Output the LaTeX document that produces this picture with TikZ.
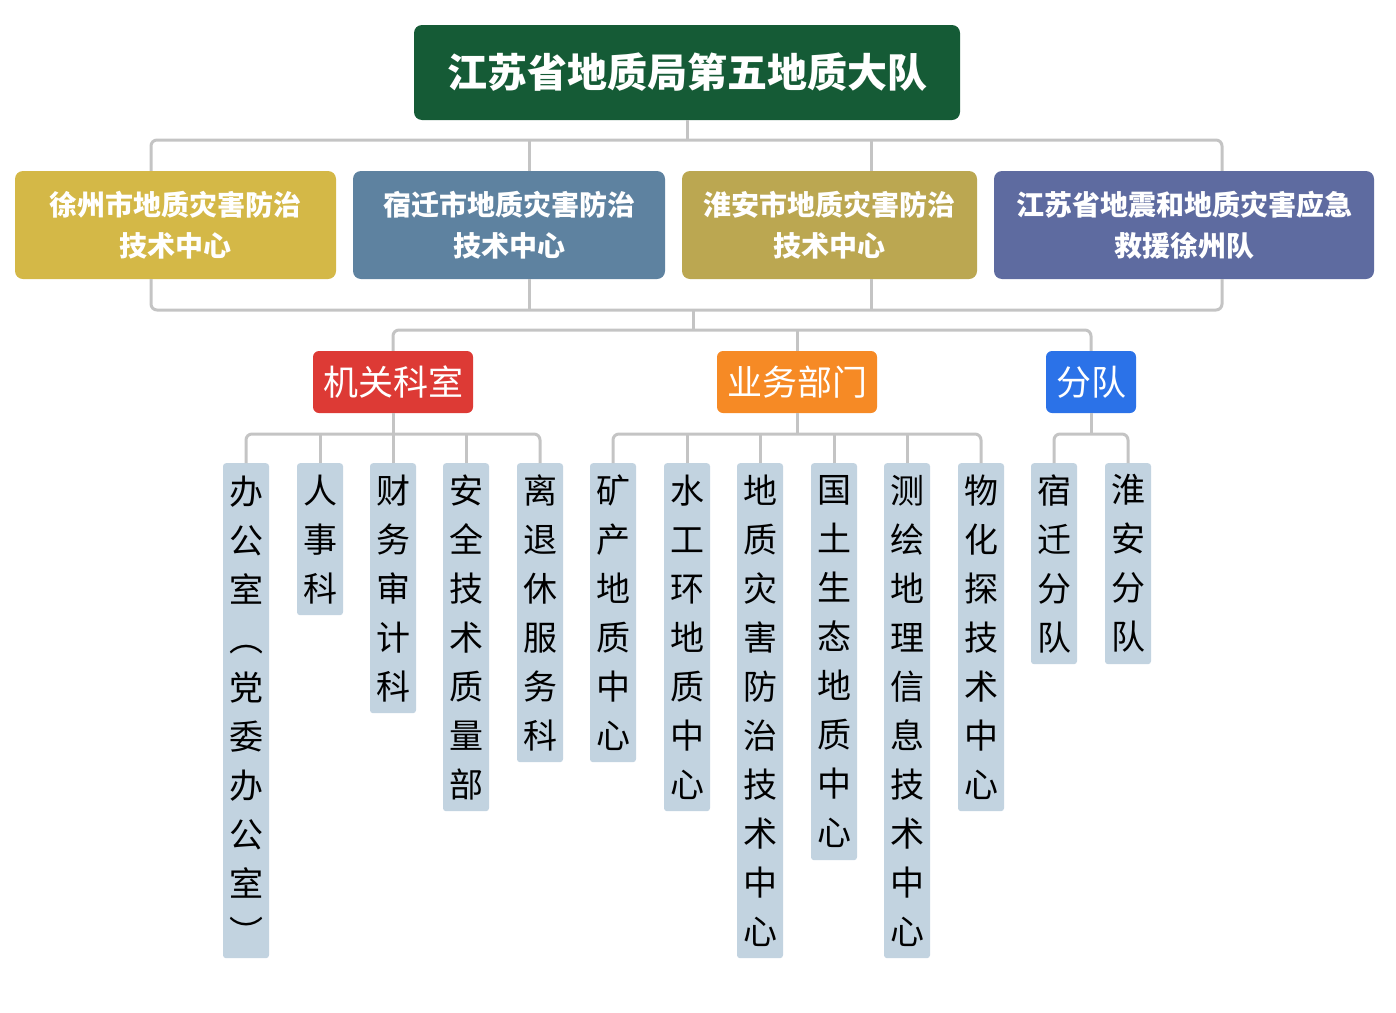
\documentclass[tikz,border=0pt]{standalone}
\usepackage{fontspec}
\newfontfamily\cjk{Noto Sans CJK SC}
\definecolor{rootc}{RGB}{21,91,54}
\definecolor{yel}{RGB}{212,184,71}
\definecolor{bgray}{RGB}{94,130,160}
\definecolor{olive}{RGB}{187,167,81}
\definecolor{slate}{RGB}{94,107,160}
\definecolor{redc}{RGB}{221,58,53}
\definecolor{orac}{RGB}{246,138,37}
\definecolor{bluc}{RGB}{43,114,232}
\definecolor{leafc}{RGB}{194,211,224}
\definecolor{linec}{RGB}{196,196,196}
\tikzset{
  x=1pt,y=-1pt,
  rootbox/.style={fill=rootc,rounded corners=8,minimum width=546,minimum height=95,inner sep=0,
    text=white,font=\cjk\bfseries\fontsize{40}{44}\selectfont},
  lonebox/.style={rounded corners=8,minimum height=108,inner sep=0,align=center,
    text=white,font=\cjk\bfseries\fontsize{28}{41}\selectfont},
  ltwobox/.style={rounded corners=6,minimum height=62,inner sep=0,
    text=white,font=\cjk\fontsize{35}{40}\selectfont},
  leafbox/.style={fill=leafc,rounded corners=3,minimum width=46,inner sep=0,anchor=north,align=center,
    text=black,font=\cjk\fontsize{34}{49}\selectfont},
  conn/.style={draw=linec,line width=3pt,rounded corners=6},
}
\begin{document}
\begin{tikzpicture}
\useasboundingbox (0,0) rectangle (1396,1012);
\coordinate (busT) at (0,140);
\coordinate (busB) at (0,310);
\coordinate (busC) at (0,330);
\coordinate (busD) at (0,434);
\coordinate (j) at (693,310);
% root
\node[rootbox] (root) at (687,72.5) {江苏省地质局第五地质大队};
% level 1
\node[lonebox,fill=yel,minimum width=321] (b1) at (175.5,225) {徐州市地质灾害防治\\技术中心};
\node[lonebox,fill=bgray,minimum width=312] (b2) at (509,225) {宿迁市地质灾害防治\\技术中心};
\node[lonebox,fill=olive,minimum width=295] (b3) at (829.5,225) {淮安市地质灾害防治\\技术中心};
\node[lonebox,fill=slate,minimum width=380] (b4) at (1184,225) {江苏省地震和地质灾害应急\\救援徐州队};
% level 2
\node[ltwobox,fill=redc,minimum width=160] (a1) at (393,382) {机关科室};
\node[ltwobox,fill=orac,minimum width=160] (a2) at (797,382) {业务部门};
\node[ltwobox,fill=bluc,minimum width=90] (a3) at (1091,382) {分队};
% leaves
\node[leafbox,minimum height=495] (l1) at (246,463) {办\\公\\室\\︵\\党\\委\\办\\公\\室\\︶};
\node[leafbox,minimum height=152] (l2) at (320,463) {人\\事\\科};
\node[leafbox,minimum height=250] (l3) at (393,463) {财\\务\\审\\计\\科};
\node[leafbox,minimum height=348] (l4) at (466,463) {安\\全\\技\\术\\质\\量\\部};
\node[leafbox,minimum height=299] (l5) at (540,463) {离\\退\\休\\服\\务\\科};
\node[leafbox,minimum height=299] (l6) at (613,463) {矿\\产\\地\\质\\中\\心};
\node[leafbox,minimum height=348] (l7) at (687,463) {水\\工\\环\\地\\质\\中\\心};
\node[leafbox,minimum height=495] (l8) at (760,463) {地\\质\\灾\\害\\防\\治\\技\\术\\中\\心};
\node[leafbox,minimum height=397] (l9) at (834,463) {国\\土\\生\\态\\地\\质\\中\\心};
\node[leafbox,minimum height=495] (l10) at (907,463) {测\\绘\\地\\理\\信\\息\\技\\术\\中\\心};
\node[leafbox,minimum height=348] (l11) at (981,463) {物\\化\\探\\技\\术\\中\\心};
\node[leafbox,minimum height=201] (l12) at (1054,463) {宿\\迁\\分\\队};
\node[leafbox,minimum height=201] (l13) at (1128,463) {淮\\安\\分\\队};
% connectors top
\draw[conn] ([xshift=-24.5]b1.north) |- ([xshift=38]b4.north |- busT) -- ([xshift=38]b4.north);
\draw[conn] (root.south) -- (root.south |- busT);
\draw[conn] ([xshift=20]b2.north) -- ([xshift=20]b2.north |- busT);
\draw[conn] ([xshift=41.5]b3.north) -- ([xshift=41.5]b3.north |- busT);
% connectors bottom of level 1
\draw[conn] ([xshift=-24.5]b1.south) |- ([xshift=38]b4.south |- busB) -- ([xshift=38]b4.south);
\draw[conn] ([xshift=20]b2.south) -- ([xshift=20]b2.south |- busB);
\draw[conn] ([xshift=41.5]b3.south) -- ([xshift=41.5]b3.south |- busB);
\draw[conn] (j) -- (j |- busC);
% to level 2
\draw[conn] (a1.north) |- (a3.north |- busC) -- (a3.north);
\draw[conn] (a2.north) -- (a2.north |- busC);
% level 2 to leaves
\draw[conn] (a1.south) -- (a1.south |- busD);
\draw[conn] (l1.north) |- (l5.north |- busD) -- (l5.north);
\foreach \n in {l2,l3,l4} \draw[conn] (\n.north) -- (\n.north |- busD);
\draw[conn] (a2.south) -- (a2.south |- busD);
\draw[conn] (l6.north) |- (l11.north |- busD) -- (l11.north);
\foreach \n in {l7,l8,l9,l10} \draw[conn] (\n.north) -- (\n.north |- busD);
\draw[conn] (a3.south) -- (a3.south |- busD);
\draw[conn] (l12.north) |- (l13.north |- busD) -- (l13.north);
\end{tikzpicture}
\end{document}
